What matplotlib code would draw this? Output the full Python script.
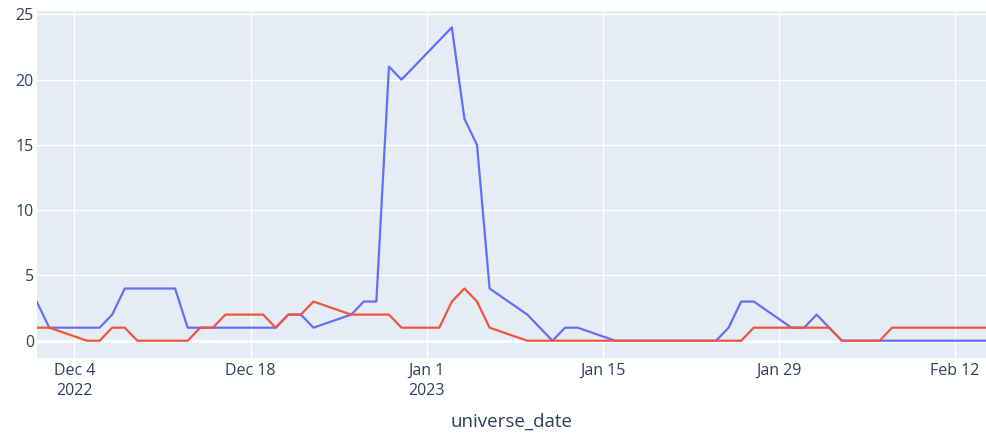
import matplotlib
matplotlib.use("Agg")
import matplotlib.pyplot as plt
import pandas as pd

plt.rcParams["font.family"] = ["Open Sans", "DejaVu Sans"]

# series 1 (blue) - vertices
blue_dates = ["2022-12-01", "2022-12-02", "2022-12-06", "2022-12-07", "2022-12-08",
              "2022-12-12", "2022-12-13", "2022-12-20", "2022-12-21", "2022-12-22",
              "2022-12-23", "2022-12-26", "2022-12-27", "2022-12-28", "2022-12-29",
              "2022-12-30", "2023-01-03", "2023-01-04", "2023-01-05", "2023-01-06",
              "2023-01-09", "2023-01-11", "2023-01-12", "2023-01-13", "2023-01-16",
              "2023-01-24", "2023-01-25", "2023-01-26", "2023-01-27", "2023-01-30",
              "2023-01-31", "2023-02-01", "2023-02-02", "2023-02-03", "2023-02-15"]
blue_vals = [3, 1, 1, 2, 4,
             4, 1, 1, 2, 2,
             1, 2, 3, 3, 21,
             20, 24, 17, 15, 4,
             2, 0, 1, 1, 0,
             0, 1, 3, 3, 1,
             1, 2, 1, 0, 0]

# series 2 (red)
red_dates = ["2022-12-01", "2022-12-02", "2022-12-05", "2022-12-06", "2022-12-07",
             "2022-12-08", "2022-12-09", "2022-12-13", "2022-12-14", "2022-12-15",
             "2022-12-16", "2022-12-19", "2022-12-20", "2022-12-21", "2022-12-22",
             "2022-12-23", "2022-12-26", "2022-12-29", "2022-12-30", "2023-01-02",
             "2023-01-03", "2023-01-04", "2023-01-05", "2023-01-06", "2023-01-09",
             "2023-01-26", "2023-01-27", "2023-02-02", "2023-02-03", "2023-02-06",
             "2023-02-07", "2023-02-15"]
red_vals = [1, 1, 0, 0, 1,
            1, 0, 0, 1, 1,
            2, 2, 1, 2, 2,
            3, 2, 2, 1, 1,
            3, 4, 3, 1, 0,
            0, 1, 1, 0, 0,
            1, 1]

tick_dates = ["2022-12-04", "2022-12-18", "2023-01-01", "2023-01-15", "2023-01-29", "2023-02-12"]
tick_labels = ["Dec 4\n2022", "Dec 18", "Jan 1\n2023", "Jan 15", "Jan 29", "Feb 12"]

fig = plt.figure(figsize=(9.87, 4.33), dpi=100)
ax = fig.add_axes([0.0372, 0.1739, 0.9628, 0.8014])
ax.set_facecolor("#E5ECF6")

ax.plot(pd.to_datetime(blue_dates), blue_vals, color="#636efa", lw=1.6, zorder=3)
ax.plot(pd.to_datetime(red_dates), red_vals, color="#EF553B", lw=1.6, zorder=3)

ax.set_xlim(pd.Timestamp("2022-12-01"), pd.Timestamp("2022-12-01") + pd.Timedelta(days=75.54))
ax.set_ylim(-1.3, 25.28)

ax.set_xticks(pd.to_datetime(tick_dates))
ax.set_xticklabels(tick_labels, linespacing=1.3)
ax.set_yticks([0, 5, 10, 15, 20, 25])

ax.grid(True, color="white", lw=1.0, zorder=0)
ax.set_axisbelow(True)
ax.axhline(0, color="white", lw=2, zorder=1)
for s in ax.spines.values():
    s.set_visible(False)
ax.tick_params(length=0, colors="#2a3f5f", labelsize=11.5)
ax.tick_params(axis="x", pad=4)
ax.tick_params(axis="y", pad=2)

ax.set_xlabel("universe_date", fontsize=13.5, color="#2a3f5f", labelpad=10)

fig.savefig("out.png", dpi=100)
